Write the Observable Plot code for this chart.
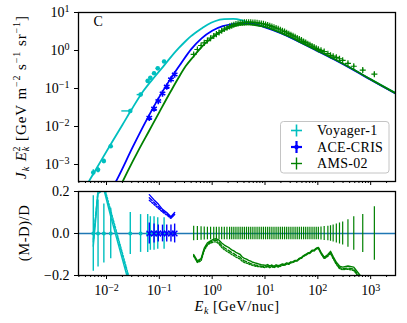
<!DOCTYPE html>
<html><head><meta charset="utf-8">
<script src="https://cdn.jsdelivr.net/npm/d3@7"></script>
<script src="https://cdn.jsdelivr.net/npm/@observablehq/plot@0.6"></script>
<style>
body{margin:0;background:#fff;}
#chart{position:relative;width:407px;height:323px;overflow:hidden;font-family:"Liberation Serif",serif;}
#chart svg{position:absolute;left:0;overflow:visible;}
</style></head><body><div id="chart"></div>
<script>
// ---------- tick labels ----------
const xMajor = [1e-2, 1e-1, 1e0, 1e1, 1e2, 1e3];
const xMajorExp = ["−2", "−1", "0", "1", "2", "3"];
const yMajor = [1e-3, 1e-2, 1e-1, 1e0, 1e1];
const yMajorExp = ["−3", "−2", "−1", "0", "1"];
const resTicks = [-0.2, 0, 0.2];
const resTickLabels = ["−0.2", "0.0", "0.2"];
const legendLabels = ["Voyager-1", "ACE-CRIS", "AMS-02"];
const panelLetter = "C";

// ---------- model curves (log10 E [GeV/nuc], log10 J E^2) ----------
const cyanModelLogE = [-2.40, -2.31, -2.10, -1.90, -1.70, -1.52, -1.30, -1.076, -0.92, -0.786, -0.634, -0.50, -0.406, -0.20, -0.09, 0.05, 0.226, 0.40, 0.55, 0.70, 0.86, 1.00, 1.30, 1.68, 2.00, 2.31, 2.70, 3.00, 3.48];
const cyanModelLogJ = [-3.60, -3.39, -2.89, -2.42, -1.96, -1.54, -1.06, -0.67, -0.41, -0.18, 0.06, 0.25, 0.37, 0.58, 0.68, 0.77, 0.825, 0.83, 0.80, 0.73, 0.67, 0.62, 0.465, 0.215, -0.005, -0.225, -0.52, -0.76, -1.13];
const blueModelLogE = [-1.85, -1.80, -1.50, -1.20, -1.00, -0.786, -0.60, -0.40, -0.20, 0.00, 0.20, 0.35, 0.55, 0.75, 1.00, 1.30, 1.68, 2.00, 2.31, 2.70, 3.00, 3.48];
const blueModelLogJ = [-3.52, -3.39, -2.53, -1.72, -1.22, -0.74, -0.36, 0.03, 0.32, 0.52, 0.64, 0.69, 0.715, 0.705, 0.61, 0.455, 0.205, -0.015, -0.235, -0.53, -0.77, -1.14];
const greenModelLogE = [-1.72, -1.60, -1.40, -1.20, -1.00, -0.786, -0.634, -0.50, -0.35, -0.21, -0.09, 0.03, 0.13, 0.23, 0.33, 0.45, 0.57, 0.69, 0.81, 0.93, 1.05, 1.17, 1.30, 1.49, 1.68, 2.00, 2.31, 2.70, 3.00, 3.48];
const greenModelLogJ = [-3.52, -3.18, -2.64, -2.13, -1.62, -1.08, -0.71, -0.41, -0.15, 0.075, 0.24, 0.37, 0.46, 0.54, 0.60, 0.655, 0.68, 0.685, 0.67, 0.64, 0.60, 0.54, 0.465, 0.35, 0.215, -0.005, -0.225, -0.52, -0.76, -1.13];

// ---------- Voyager-1 ----------
const voyLogE = [-2.25, -2.16, -2.05, -1.92, -1.55, -1.355, -1.22, -1.17, -1.10, -1.03, -0.91];
const voyLogJ = [-3.21, -3.14, -2.91, -2.52, -1.59, -1.16, -0.80, -0.72, -0.60, -0.47, -0.29];
const voyLogElo = [-2.28, -2.19, -2.08, -1.95, -1.71, -1.42, -1.25, -1.20, -1.13, -1.06, -0.94];
const voyLogEhi = [-2.22, -2.13, -2.02, -1.89, -1.51, -1.30, -1.19, -1.14, -1.07, -1.00, -0.88];
const voyErr = [0.18, 0.16, 0.14, 0.12, 0.10, 0.09, 0.09, 0.08, 0.08, 0.075, 0.075];
const voyResSolid = [-0.06, 0.19, 0.21, 0.08, -0.26, -0.34, -0.30, -0.27, -0.30, -0.28, -0.32];
const voyResDash = [-0.03, 0.21, 0.22, 0.10, -0.24, -0.33, -0.29, -0.26, -0.29, -0.27, -0.31];
const voyResDot = [-0.04, 0.20, 0.23, 0.11, -0.23, -0.32, -0.28, -0.25, -0.28, -0.26, -0.30];

// ---------- ACE-CRIS ----------
const aceLogE = [-1.19, -1.10, -1.02, -0.94, -0.86, -0.78, -0.71];
const aceLogJ = [-1.77, -1.53, -1.33, -1.13, -0.95, -0.76, -0.63];
const aceErr = [0.05, 0.045, 0.04, 0.04, 0.04, 0.04, 0.045];
const aceResSolid = [0.185, 0.16, 0.14, 0.115, 0.10, 0.08, 0.10];
const aceResDash = [0.17, 0.148, 0.128, 0.108, 0.093, 0.075, 0.095];
const aceResDot = [0.158, 0.138, 0.12, 0.102, 0.088, 0.072, 0.09];

// ---------- AMS-02 ----------
const amsLogE = [-0.35, -0.28, -0.21, -0.15, -0.09, -0.03, 0.03, 0.08, 0.13, 0.18, 0.23, 0.28, 0.33, 0.37, 0.41, 0.45, 0.49, 0.53, 0.57, 0.61, 0.65, 0.69, 0.73, 0.77, 0.81, 0.85, 0.89, 0.93, 0.97, 1.01, 1.05, 1.09, 1.13, 1.17, 1.21, 1.25, 1.29, 1.33, 1.37, 1.41, 1.45, 1.49, 1.53, 1.57, 1.61, 1.65, 1.69, 1.73, 1.77, 1.81, 1.85, 1.89, 1.93, 1.97, 2.01, 2.06, 2.12, 2.19, 2.24, 2.29, 2.35, 2.41, 2.47, 2.57, 2.68, 2.85, 3.07];
const amsLogJ = [-0.104, 0.026, 0.131, 0.201, 0.262, 0.325, 0.382, 0.431, 0.474, 0.520, 0.565, 0.598, 0.632, 0.655, 0.678, 0.696, 0.708, 0.721, 0.732, 0.740, 0.742, 0.745, 0.741, 0.739, 0.736, 0.727, 0.719, 0.710, 0.701, 0.687, 0.670, 0.653, 0.631, 0.614, 0.590, 0.572, 0.546, 0.518, 0.499, 0.466, 0.442, 0.413, 0.387, 0.360, 0.329, 0.300, 0.273, 0.238, 0.211, 0.177, 0.151, 0.116, 0.091, 0.057, 0.030, 0.006, -0.028, -0.084, -0.126, -0.149, -0.181, -0.217, -0.259, -0.337, -0.414, -0.515, -0.623];
const amsErr = [0.035, 0.033, 0.032, 0.031, 0.03, 0.03, 0.03, 0.03, 0.03, 0.03, 0.03, 0.03, 0.03, 0.03, 0.03, 0.03, 0.03, 0.03, 0.03, 0.03, 0.03, 0.03, 0.03, 0.03, 0.03, 0.03, 0.03, 0.03, 0.03, 0.03, 0.03, 0.03, 0.03, 0.03, 0.03, 0.03, 0.03, 0.03, 0.03, 0.03, 0.03, 0.03, 0.03, 0.03, 0.03, 0.03, 0.03, 0.03, 0.03, 0.03, 0.03, 0.03, 0.03, 0.03, 0.03, 0.031, 0.033, 0.035, 0.037, 0.04, 0.045, 0.05, 0.055, 0.065, 0.08, 0.09, 0.127];
const amsResSolid = [-0.10, -0.13, -0.12, -0.07, -0.045, -0.035, -0.027, -0.025, -0.032, -0.045, -0.055, -0.062, -0.07, -0.078, -0.083, -0.09, -0.095, -0.10, -0.112, -0.118, -0.122, -0.128, -0.132, -0.137, -0.14, -0.143, -0.146, -0.149, -0.15, -0.152, -0.148, -0.155, -0.15, -0.156, -0.149, -0.153, -0.15, -0.145, -0.147, -0.14, -0.142, -0.135, -0.134, -0.128, -0.127, -0.118, -0.114, -0.105, -0.10, -0.093, -0.09, -0.08, -0.079, -0.07, -0.066, -0.09, -0.113, -0.10, -0.085, -0.11, -0.137, -0.155, -0.16, -0.155, -0.16, -0.215, -0.32];
const amsResDash = [-0.105, -0.135, -0.125, -0.075, -0.05, -0.04, -0.033, -0.032, -0.042, -0.057, -0.068, -0.076, -0.084, -0.091, -0.096, -0.103, -0.108, -0.113, -0.124, -0.13, -0.134, -0.139, -0.143, -0.147, -0.15, -0.152, -0.154, -0.156, -0.157, -0.158, -0.154, -0.16, -0.155, -0.16, -0.153, -0.157, -0.153, -0.148, -0.15, -0.143, -0.144, -0.137, -0.136, -0.13, -0.129, -0.12, -0.116, -0.107, -0.102, -0.095, -0.092, -0.082, -0.081, -0.072, -0.068, -0.093, -0.117, -0.105, -0.09, -0.116, -0.143, -0.162, -0.168, -0.164, -0.17, -0.225, -0.33];
const amsResDot = [-0.108, -0.138, -0.13, -0.08, -0.055, -0.045, -0.04, -0.04, -0.05, -0.066, -0.077, -0.085, -0.093, -0.1, -0.105, -0.112, -0.117, -0.122, -0.132, -0.138, -0.141, -0.145, -0.149, -0.152, -0.155, -0.157, -0.158, -0.16, -0.161, -0.162, -0.158, -0.163, -0.158, -0.163, -0.156, -0.16, -0.156, -0.151, -0.152, -0.146, -0.147, -0.14, -0.138, -0.132, -0.131, -0.122, -0.118, -0.109, -0.104, -0.097, -0.094, -0.084, -0.083, -0.074, -0.07, -0.096, -0.12, -0.108, -0.094, -0.12, -0.147, -0.167, -0.172, -0.17, -0.176, -0.232, -0.34];

// ---------- styling ----------
const C_CYAN = "#00bfbf", C_BLUE = "#0000ff", C_GREEN = "#008000", C_ZERO = "#1f77b4";
const FONT = "'Liberation Serif', 'DejaVu Serif', serif";
const X_DOMAIN = [Math.pow(10, -2.53), Math.pow(10, 3.47)];
const Y_DOMAIN = [Math.pow(10, -3.447), 10];

const p10 = v => Math.pow(10, v);
const modelPts = (le, lj) => le.map((e, i) => ({E: p10(e), J: p10(lj[i])}));
const cyanModel = modelPts(cyanModelLogE, cyanModelLogJ);
const blueModel = modelPts(blueModelLogE, blueModelLogJ);
const greenModel = modelPts(greenModelLogE, greenModelLogJ);

const voy = voyLogE.map((e, i) => ({E: p10(e), J: p10(voyLogJ[i]), Elo: p10(voyLogElo[i]), Ehi: p10(voyLogEhi[i]), err: voyErr[i], rs: voyResSolid[i], rd: voyResDash[i], ro: voyResDot[i]}));
const ace = aceLogE.map((e, i) => ({E: p10(e), J: p10(aceLogJ[i]), err: aceErr[i], rs: aceResSolid[i], rd: aceResDash[i], ro: aceResDot[i]}));
const ams = amsLogE.map((e, i) => ({E: p10(e), J: p10(amsLogJ[i]), err: amsErr[i], rs: amsResSolid[i], rd: amsResDash[i], ro: amsResDot[i]}));

const minorTicks = [];
for (let d = -3; d <= 3; d++) for (let m = 2; m <= 9; m++) {
  const v = m * Math.pow(10, d);
  if (v > X_DOMAIN[0] && v < X_DOMAIN[1]) minorTicks.push(v);
}
const expLabel = (ticks, exps) => d => {
  const i = ticks.findIndex(t => Math.abs(Math.log10(t) - Math.log10(d)) < 1e-6);
  return i < 0 ? "" : "10^" + exps[i];
};

function superscriptify(svg) {
  d3.select(svg).selectAll("text").each(function () {
    const m = /^10\^(.+)$/.exec(this.textContent);
    if (!m) return;
    const s = d3.select(this);
    s.text(null);
    s.append("tspan").text("10");
    s.append("tspan").attr("dy", "-0.48em").attr("font-size", "0.72em").text(m[1]);
  });
}
function richText(parent, x, y, rot, parts, size, spacing) {
  const t = parent.append("text")
    .attr("transform", `translate(${x},${y}) rotate(${rot})`)
    .attr("text-anchor", "middle").attr("font-size", size)
    .attr("font-family", FONT).attr("fill", "black");
  if (spacing) t.attr("letter-spacing", spacing);
  for (const p of parts) {
    const s = t.append("tspan").text(p.text);
    if (p.italic) s.attr("font-style", "italic");
    if (p.size) s.attr("font-size", p.size);
    if (p.dx) s.attr("dx", p.dx);
    if (p.dy) s.attr("dy", p.dy);
  }
}

const style = {fontFamily: FONT, fontSize: "14px", background: "transparent", overflow: "visible", color: "black"};

// ---------- top panel ----------
const topPlot = Plot.plot({
  width: 407, height: 190,
  marginLeft: 78, marginRight: 12, marginTop: 12, marginBottom: 9,
  x: {type: "log", domain: X_DOMAIN},
  y: {type: "log", domain: Y_DOMAIN},
  style,
  marks: [
    Plot.line(cyanModel, {x: "E", y: "J", stroke: C_CYAN, strokeWidth: 1.8, curve: "monotone-x", clip: true}),
    Plot.line(blueModel, {x: "E", y: "J", stroke: C_BLUE, strokeWidth: 1.8, curve: "monotone-x", clip: true}),
    Plot.line(greenModel, {x: "E", y: "J", stroke: C_GREEN, strokeWidth: 1.8, curve: "monotone-x", clip: true}),
    Plot.ruleY(voy, {y: "J", x1: "Elo", x2: "Ehi", stroke: C_CYAN, strokeWidth: 1.4}),
    Plot.ruleX(voy, {x: "E", y1: d => d.J * (1 - d.err), y2: d => d.J * (1 + d.err), stroke: C_CYAN, strokeWidth: 1.4}),
    Plot.dot(voy, {x: "E", y: "J", fill: C_CYAN, r: 2.3}),
    Plot.ruleX(ace, {x: "E", y1: d => d.J * (1 - d.err), y2: d => d.J * (1 + d.err), stroke: C_BLUE, strokeWidth: 1.4}),
    Plot.dot(ace, {x: "E", y: "J", symbol: "asterisk", stroke: C_BLUE, strokeWidth: 1.6, r: 3}),
    Plot.ruleX(ams, {x: "E", y1: d => d.J * (1 - d.err), y2: d => d.J * (1 + d.err), stroke: C_GREEN, strokeWidth: 1.2}),
    Plot.dot(ams, {x: "E", y: "J", symbol: "plus", stroke: C_GREEN, strokeWidth: 1.2, r: 2.1}),
    Plot.text([panelLetter], {frameAnchor: "top-left", dx: 15, dy: 4, lineAnchor: "top", textAnchor: "start", fontSize: 14, fontFamily: FONT, fill: "black"}),
    Plot.frame({stroke: "black", strokeWidth: 1.3}),
    Plot.axisX({ticks: xMajor, tickSize: 4, tickFormat: () => "", label: null}),
    Plot.axisX({ticks: minorTicks, tickSize: 2, tickFormat: () => "", label: null}),
    Plot.axisY({ticks: yMajor, tickSize: 4, tickPadding: 5, tickFormat: expLabel(yMajor, yMajorExp), label: null})
  ]
});

// ---------- residual panel ----------
const resLine = (data, key, color, dash) => Plot.line(data, {x: "E", y: key, stroke: color, strokeWidth: 1.4, strokeDasharray: dash, clip: true});
const bottomPlot = Plot.plot({
  width: 407, height: 143,
  marginLeft: 78, marginRight: 12, marginTop: 11, marginBottom: 48,
  x: {type: "log", domain: X_DOMAIN},
  y: {domain: [-0.2, 0.2]},
  style,
  marks: [
    Plot.ruleY([0], {stroke: C_ZERO, strokeWidth: 1.6}),
    Plot.ruleX(voy, {x: "E", y1: d => -d.err, y2: d => d.err, stroke: C_CYAN, strokeWidth: 1.4, clip: true}),
    Plot.dot(voy, {x: "E", y: () => 0, fill: C_CYAN, r: 2}),
    Plot.ruleX(ace, {x: "E", y1: d => -d.err, y2: d => d.err, stroke: C_BLUE, strokeWidth: 1.4, clip: true}),
    Plot.dot(ace, {x: "E", y: () => 0, symbol: "times", stroke: C_BLUE, strokeWidth: 1.4, r: 2.6}),
    Plot.ruleX(ams, {x: "E", y1: d => -d.err, y2: d => d.err, stroke: C_GREEN, strokeWidth: 1.2, clip: true}),
    resLine(voy, "rs", C_CYAN, null), resLine(voy, "rd", C_CYAN, "4,2"), resLine(voy, "ro", C_CYAN, "1.5,1.5"),
    resLine(ace, "rs", C_BLUE, null), resLine(ace, "rd", C_BLUE, "4,2"), resLine(ace, "ro", C_BLUE, "1.5,1.5"),
    resLine(ams, "rs", C_GREEN, null), resLine(ams, "rd", C_GREEN, "4,2"), resLine(ams, "ro", C_GREEN, "1.5,1.5"),
    Plot.frame({stroke: "black", strokeWidth: 1.3}),
    Plot.axisX({ticks: xMajor, tickSize: 4, tickPadding: 6, tickFormat: expLabel(xMajor, xMajorExp), label: null}),
    Plot.axisX({ticks: minorTicks, tickSize: 2, tickFormat: () => "", label: null}),
    Plot.axisY({ticks: resTicks, tickSize: 4, tickPadding: 5, tickFormat: d => resTickLabels[resTicks.indexOf(d)], label: null})
  ]
});

superscriptify(topPlot);
superscriptify(bottomPlot);

// axis titles
const ts = d3.select(topPlot);
richText(ts, 26, 97, -90, [
  {text: "J", italic: true}, {text: "k", italic: true, size: 10, dy: 3},
  {text: "\u00a0E", italic: true, dy: -3}, {text: "k", italic: true, size: 10, dy: 3},
  {text: "2", size: 10, dx: -5.5, dy: -9},
  {text: "\u00a0[GeV m", dy: 6}, {text: "−2", size: 10, dy: -6},
  {text: "\u00a0s", dy: 6}, {text: "−1", size: 10, dy: -6},
  {text: "\u00a0sr", dy: 6}, {text: "−1", size: 10, dy: -6}, {text: "]", dy: 6}
], 15, 0.9);
const bs = d3.select(bottomPlot);
richText(bs, 29, 53, -90, [{text: "(M-D)/D"}], 14.5, 0.6);
richText(bs, 237, 131, 0, [
  {text: "E", italic: true}, {text: "k", italic: true, size: 10, dy: 3},
  {text: "\u00a0[GeV/nuc]", dy: -3}
], 14.5, 0.5);

// legend
const lg = ts.append("g").attr("text-anchor", "start");
lg.append("rect").attr("x", 280.5).attr("y", 121.5).attr("width", 108.5).attr("height", 51.5)
  .attr("rx", 3).attr("fill", "white").attr("fill-opacity", 0.85).attr("stroke", "#c4c4c4").attr("stroke-width", 1);
const rows = [
  {c: C_CYAN, y: 130.5, w: 1.6},
  {c: C_BLUE, y: 147, w: 2.2},
  {c: C_GREEN, y: 163.5, w: 1.4}
];
rows.forEach((r, i) => {
  const cx = 296.5;
  lg.append("line").attr("x1", cx - 5.5).attr("x2", cx + 5.5).attr("y1", r.y).attr("y2", r.y).attr("stroke", r.c).attr("stroke-width", r.w);
  lg.append("line").attr("x1", cx).attr("x2", cx).attr("y1", r.y - 6).attr("y2", r.y + 6).attr("stroke", r.c).attr("stroke-width", r.w);
  if (i === 1) lg.append("circle").attr("cx", cx).attr("cy", r.y).attr("r", 2.2).attr("fill", r.c);
  lg.append("text").attr("x", 317).attr("y", r.y).attr("dy", "0.35em").attr("font-size", 14)
    .attr("text-anchor", "start").attr("letter-spacing", 0.3)
    .attr("font-family", FONT).attr("fill", "black").text(legendLabels[i]);
});

topPlot.style.top = "0px";
bottomPlot.style.top = "180px";
document.getElementById("chart").append(topPlot, bottomPlot);
</script>
</body></html>
